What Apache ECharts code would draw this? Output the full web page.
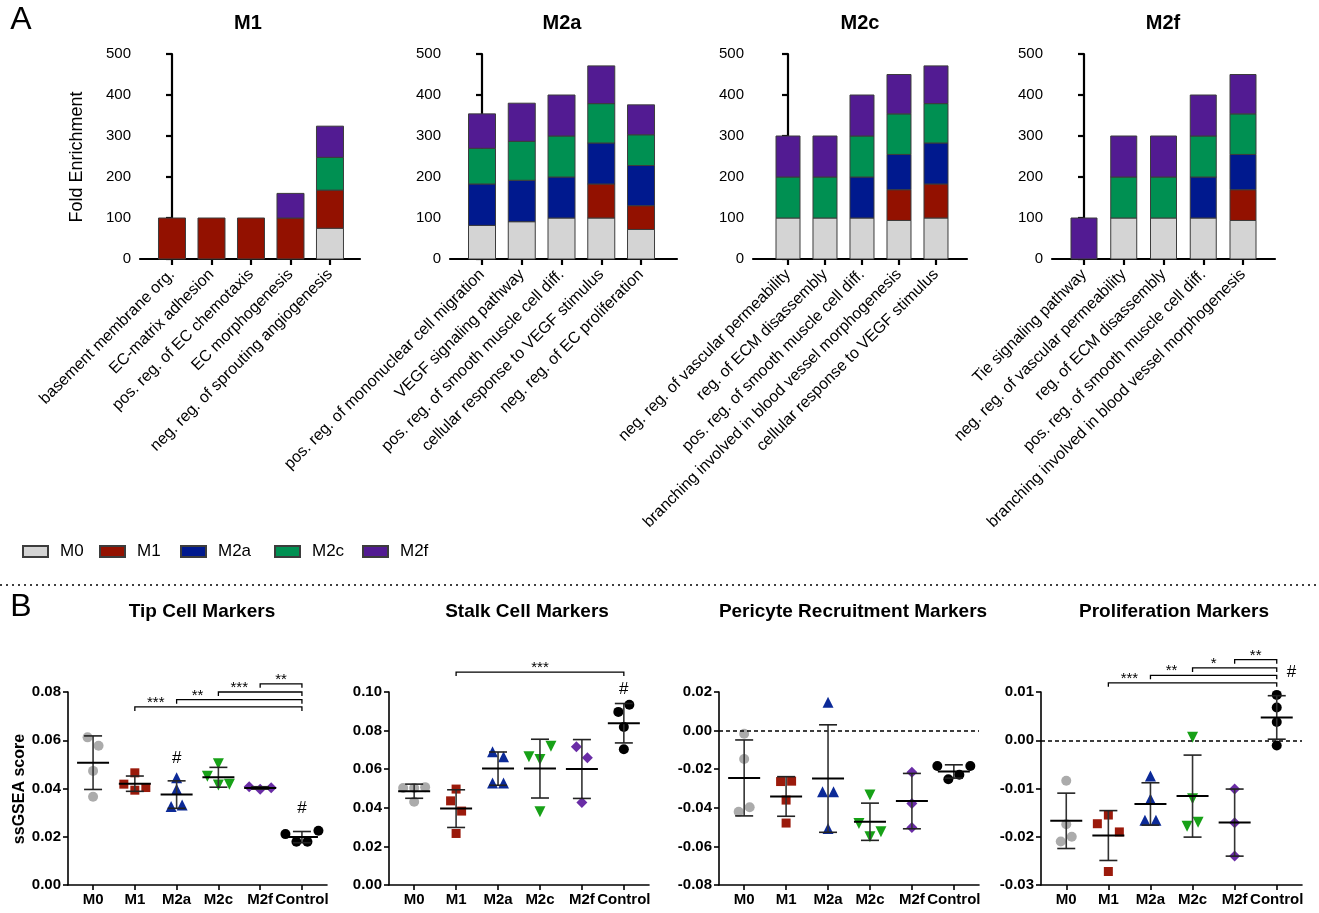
<!DOCTYPE html>
<html><head><meta charset="utf-8">
<script src="https://cdn.jsdelivr.net/npm/echarts@6/dist/echarts.min.js"></script>
<style>html,body{margin:0;padding:0;background:#fff}#c{width:1319px;height:913px}</style>
</head><body><div id="c"></div><script>
// ---------- DATA: panel A (fold enrichment, stacked by macrophage subtype) ----------
const groupsA = ['M0','M1','M2a','M2c','M2f'];

const m1Terms = ['basement membrane org.','EC-matrix adhesion','pos. reg. of EC chemotaxis','EC morphogenesis','neg. reg. of sprouting angiogenesis'];
const m1_M0  = [0,0,0,0,75];
const m1_M1  = [100,100,100,100,93];
const m1_M2a = [0,0,0,0,0];
const m1_M2c = [0,0,0,0,80];
const m1_M2f = [0,0,0,60,76];

const m2aTerms = ['pos. reg. of mononuclear cell migration','VEGF signaling pathway','pos. reg. of smooth muscle cell diff.','cellular response to VEGF stimulus','neg. reg. of EC proliferation'];
const m2a_M0  = [82,91,100,100,72];
const m2a_M1  = [0,0,0,83,58];
const m2a_M2a = [101,101,100,100,98];
const m2a_M2c = [87,95,100,96,75];
const m2a_M2f = [84,93,100,92,73];

const m2cTerms = ['neg. reg. of vascular permeability','reg. of ECM disassembly','pos. reg. of smooth muscle cell diff.','branching involved in blood vessel morphogenesis','cellular response to VEGF stimulus'];
const m2c_M0  = [100,100,100,94,100];
const m2c_M1  = [0,0,0,75,83];
const m2c_M2a = [0,0,100,86,100];
const m2c_M2c = [100,100,100,99,96];
const m2c_M2f = [100,100,100,96,92];

const m2fTerms = ['Tie signaling pathway','neg. reg. of vascular permeability','reg. of ECM disassembly','pos. reg. of smooth muscle cell diff.','branching involved in blood vessel morphogenesis'];
const m2f_M0  = [0,100,100,100,94];
const m2f_M1  = [0,0,0,0,75];
const m2f_M2a = [0,0,0,100,86];
const m2f_M2c = [0,100,100,100,99];
const m2f_M2f = [100,100,100,100,96];

// ---------- DATA: panel B (ssGSEA scores, individual replicates) ----------
const groupsB = ['M0','M1','M2a','M2c','M2f','Control'];

const tip_M0 = [0.0612,0.0577,0.0473,0.0366];
const tip_M1 = [0.0465,0.0418,0.0393,0.0404];
const tip_M2a = [0.0445,0.0397,0.0325,0.0332];
const tip_M2c = [0.0503,0.0451,0.0414,0.0418];
const tip_M2f = [0.0407,0.0397,0.0403];
const tip_Control = [0.0211,0.0179,0.0179,0.0225];

const stalk_M0 = [0.0503,0.0503,0.0507,0.0431];
const stalk_M1 = [0.0497,0.0436,0.0383,0.0267];
const stalk_M2a = [0.0690,0.0664,0.0529,0.0529];
const stalk_M2c = [0.0664,0.0650,0.0719,0.0379];
const stalk_M2f = [0.0716,0.0659,0.0428];
const stalk_Control = [0.0897,0.0934,0.0819,0.0703];

const peri_M0 = [-0.0016,-0.0147,-0.0421,-0.0397];
const peri_M1 = [-0.0264,-0.0262,-0.0360,-0.0479];
const peri_M2a = [0.0147,-0.0317,-0.0317,-0.0507];
const peri_M2c = [-0.0334,-0.0481,-0.0550,-0.0524];
const peri_M2f = [-0.0216,-0.0378,-0.0502];
const peri_Control = [-0.0183,-0.0252,-0.0229,-0.0183];

const prol_M0 = [-0.0084,-0.0174,-0.0210,-0.0200];
const prol_M1 = [-0.0173,-0.0155,-0.0190,-0.0272];
const prol_M2a = [-0.0074,-0.0122,-0.0166,-0.0166];
const prol_M2c = [0.0006,-0.0121,-0.0178,-0.0170];
const prol_M2f = [-0.0101,-0.0171,-0.0240];
const prol_Control = [0.0094,0.0068,0.0038,-0.0011];

// significance brackets: [from group, to group, label, bracket level]
const tipSig = [['M1','Control','***',0.0738],['M2a','Control','**',0.0768],['M2c','Control','***',0.0800],['M2f','Control','**',0.0834]];
const stalkSig = [['M1','Control','***',0.1103]];
const periSig = [];
const prolSig = [['M1','Control','***',0.0119],['M2a','Control','**',0.01345],['M2c','Control','*',0.0150],['M2f','Control','**',0.0167]];
// "#" marks: [group, level]
const tipHash = [['M2a',0.0525],['Control',0.0318]];
const stalkHash = [['Control',0.1015]];
const periHash = [];
const prolHash = [['Control',0.0141]];

// ---------- STYLE / LAYOUT ----------
const FONT = 'Liberation Sans, Arial, Helvetica, sans-serif';
const colorsA = {M0:'#d4d4d4', M1:'#931100', M2a:'#00198e', M2c:'#009052', M2f:'#521b92'};
const colorsB = {M0:'#ababab', M1:'#9b1a0b', M2a:'#0c2a98', M2c:'#17a117', M2f:'#6a2da6', Control:'#000000'};
const symB = {M0:['circle',10,0], M1:['rect',9,0], M2a:['triangle',11,0], M2c:['triangle',11,180], M2f:['diamond',11,0], Control:['circle',10,0]};
const legendLefts = [22, 99, 180, 274, 362];

const A_TOP = 54, A_H = 205;
const panelsA = [
  {title:'M1',  terms:m1Terms,  vals:[m1_M0,m1_M1,m1_M2a,m1_M2c,m1_M2f],       left:140,  width:220, xmin:-0.81, xmax:4.76, barW:27, tx:248},
  {title:'M2a', terms:m2aTerms, vals:[m2a_M0,m2a_M1,m2a_M2a,m2a_M2c,m2a_M2f],  left:450,  width:227, xmin:-0.805, xmax:4.905, barW:27, tx:562},
  {title:'M2c', terms:m2cTerms, vals:[m2c_M0,m2c_M1,m2c_M2a,m2c_M2c,m2c_M2f],  left:753,  width:214, xmin:-0.946, xmax:4.838, barW:24, tx:860},
  {title:'M2f', terms:m2fTerms, vals:[m2f_M0,m2f_M1,m2f_M2a,m2f_M2c,m2f_M2f],  left:1052, width:223, xmin:-0.805, xmax:4.805, barW:26, tx:1163}
];
const B_TOP = 692, B_H = 193;
const panelsB = [
  {title:'Tip Cell Markers', data:[tip_M0,tip_M1,tip_M2a,tip_M2c,tip_M2f,tip_Control], left:68, width:259, ymin:0, ymax:0.08, step:0.02, sig:tipSig, hash:tipHash, zero:false, tx:202, hashDx:0},
  {title:'Stalk Cell Markers', data:[stalk_M0,stalk_M1,stalk_M2a,stalk_M2c,stalk_M2f,stalk_Control], left:389, width:260, ymin:0, ymax:0.10, step:0.02, sig:stalkSig, hash:stalkHash, zero:false, tx:527, hashDx:0},
  {title:'Pericyte Recruitment Markers', data:[peri_M0,peri_M1,peri_M2a,peri_M2c,peri_M2f,peri_Control], left:719, width:260, ymin:-0.08, ymax:0.02, step:0.02, sig:periSig, hash:periHash, zero:true, tx:853, hashDx:0},
  {title:'Proliferation Markers', data:[prol_M0,prol_M1,prol_M2a,prol_M2c,prol_M2f,prol_Control], left:1041, width:261, ymin:-0.03, ymax:0.01, step:0.01, sig:prolSig, hash:prolHash, zero:true, tx:1174, hashDx:10}
];
const BX_MIN = -0.6, BX_MAX = 5.6;

// ---------- helpers ----------
function swarm(vals, pxY, pxX, thr, spacing){
  const idx = vals.map((v,i)=>i).sort((a,b)=>vals[b]-vals[a]);
  const clusters=[]; let cur=[idx[0]];
  for(let k=1;k<idx.length;k++){
    if((vals[idx[k-1]]-vals[idx[k]])*pxY < thr) cur.push(idx[k]); else {clusters.push(cur); cur=[idx[k]];}
  }
  clusters.push(cur);
  const off = vals.map(()=>0);
  clusters.forEach(c=>{ c.sort((a,b)=>a-b); c.forEach((i,k)=>{ off[i]=(k-(c.length-1)/2)*spacing/pxX; }); });
  return off;
}
function meanSd(a){
  const m=a.reduce((s,v)=>s+v,0)/a.length;
  const sd=Math.sqrt(a.reduce((s,v)=>s+(v-m)*(v-m),0)/(a.length-1));
  return [m,sd];
}
function fmt2(v){ return Math.abs(v)<1e-9 ? '0.00' : v.toFixed(2); }

const grid=[], xAxis=[], yAxis=[], series=[], graphic=[];

// ---------- panel A ----------
panelsA.forEach((p,pi)=>{
  grid.push({left:p.left, top:A_TOP, width:p.width, height:A_H});
  xAxis.push({gridIndex:pi, type:'value', min:p.xmin, max:p.xmax,
    axisLine:{show:true, onZero:false, lineStyle:{color:'#000', width:2.2}},
    axisTick:{show:true, length:6, lineStyle:{color:'#000', width:2.2}, customValues:[0,1,2,3,4]},
    splitLine:{show:false},
    axisLabel:{customValues:[0,1,2,3,4], rotate:45, margin:13, color:'#000', fontFamily:FONT, fontSize:16, hideOverlap:false,
      formatter:(v)=>p.terms[Math.round(v)]}
  });
  yAxis.push({gridIndex:pi, type:'value', min:0, max:500, interval:100,
    axisLine:{show:true, lineStyle:{color:'#000', width:2.2}},
    axisTick:{show:true, length:6, lineStyle:{color:'#000', width:2.2}},
    splitLine:{show:false},
    axisLabel:{margin:9, color:'#000', fontFamily:FONT, fontSize:15}
  });
  // stacked bars: base of each segment = sum of the previous subtypes
  const base = p.terms.map(()=>0);
  groupsA.forEach((g,gi)=>{
    const vals = p.vals[gi];
    const data = vals.map((v,i)=>[i, base[i], base[i]+v]);
    vals.forEach((v,i)=>{ base[i]+=v; });
    const bw = p.barW;
    series.push({type:'custom', name:g, xAxisIndex:pi, yAxisIndex:pi, z:3, animation:false, silent:true,
      itemStyle:{color:colorsA[g], borderColor:'#3c3c3c', borderWidth:1},
      encode:{x:0, y:[1,2]},
      data,
      renderItem:(params, api)=>{
        const lo=api.value(1), hi=api.value(2);
        if(hi-lo<=0) return null;
        const pLo=api.coord([api.value(0), lo]), pHi=api.coord([api.value(0), hi]);
        return {type:'rect', shape:{x:pLo[0]-bw/2, y:pHi[1], width:bw, height:pLo[1]-pHi[1]},
          style:{fill:colorsA[g], stroke:'#3c3c3c', lineWidth:1}};
      }});
  });
  graphic.push({type:'text', x:p.tx, y:23, style:{text:p.title, font:'bold 20px '+FONT, fill:'#000', align:'center', verticalAlign:'middle'}});
});

// ---------- panel B ----------
panelsB.forEach((p,qi)=>{
  const ai = 4+qi;
  grid.push({left:p.left, top:B_TOP, width:p.width, height:B_H});
  xAxis.push({gridIndex:ai, type:'value', min:BX_MIN, max:BX_MAX,
    axisLine:{show:true, onZero:false, lineStyle:{color:'#000', width:1.6}},
    axisTick:{show:true, length:5, lineStyle:{color:'#000', width:1.6}, customValues:[0,1,2,3,4,5]},
    splitLine:{show:false},
    axisLabel:{customValues:[0,1,2,3,4,5], margin:7, color:'#000', fontFamily:FONT, fontSize:15, fontWeight:'bold', hideOverlap:false,
      formatter:(v)=>groupsB[Math.round(v)]}
  });
  yAxis.push({gridIndex:ai, type:'value', min:p.ymin, max:p.ymax, interval:p.step,
    axisLine:{show:true, onZero:false, lineStyle:{color:'#000', width:1.6}},
    axisTick:{show:true, length:5, lineStyle:{color:'#000', width:1.6}},
    splitLine:{show:false},
    axisLabel:{margin:7, color:'#000', fontFamily:FONT, fontSize:15, fontWeight:'bold', formatter:fmt2}
  });
  const pxY = B_H/(p.ymax-p.ymin), pxX = p.width/(BX_MAX-BX_MIN);
  const stats=[];
  groupsB.forEach((g,gi)=>{
    const vals = p.data[gi];
    const off = swarm(vals, pxY, pxX, 11.2, 11);
    const s = symB[g];
    const ser = {type:'scatter', name:g+'_'+qi, xAxisIndex:ai, yAxisIndex:ai,
      symbol:s[0], symbolSize:s[1], symbolRotate:s[2], z:4,
      data:vals.map((v,i)=>[gi+off[i], v]),
      itemStyle:{color:colorsB[g], opacity:1}, emphasis:{disabled:true}, animation:false};
    if(gi===0 && p.zero){
      ser.markLine={silent:true, symbol:'none', animation:false, label:{show:false},
        lineStyle:{color:'#000', type:[4,3], width:1.6}, data:[{yAxis:0}]};
    }
    series.push(ser);
    const ms = meanSd(vals);
    stats.push([gi, ms[0], ms[1]]);
  });
  // mean +/- SD
  series.push({type:'custom', xAxisIndex:ai, yAxisIndex:ai, z:5, clip:false, animation:false, silent:true,
    data:stats,
    renderItem:(params, api)=>{
      const g=api.value(0), m=api.value(1), s=api.value(2);
      const c=api.coord([g,m]), t=api.coord([g,m+s]), b=api.coord([g,m-s]);
      const st={stroke:'#222', lineWidth:1.6};
      return {type:'group', children:[
        {type:'line', shape:{x1:c[0],y1:t[1],x2:c[0],y2:b[1]}, style:{stroke:'#333', lineWidth:1.6}},
        {type:'line', shape:{x1:c[0]-9,y1:t[1],x2:c[0]+9,y2:t[1]}, style:st},
        {type:'line', shape:{x1:c[0]-9,y1:b[1],x2:c[0]+9,y2:b[1]}, style:st},
        {type:'line', shape:{x1:c[0]-16,y1:c[1],x2:c[0]+16,y2:c[1]}, style:{stroke:'#000', lineWidth:2}}
      ]};
    }});
  // significance brackets
  if(p.sig.length){
    const sorted = p.sig.slice().sort((a,b)=>a[3]-b[3]);
    const labels = sorted.map(s=>s[2]);
    const bdata = sorted.map((s,k)=>{
      const a=groupsB.indexOf(s[0]), b=groupsB.indexOf(s[1]);
      const nextStart = k+1<sorted.length ? groupsB.indexOf(sorted[k+1][0]) : b;
      return [a, b, s[3], (a+nextStart)/2];
    });
    series.push({type:'custom', xAxisIndex:ai, yAxisIndex:ai, z:6, clip:false, animation:false, silent:true,
      data:bdata,
      renderItem:(params, api)=>{
        const a=api.value(0), b=api.value(1), lv=api.value(2), lx=api.value(3);
        const pa=api.coord([a,lv]), pb=api.coord([b,lv]), pl=api.coord([lx,lv]);
        return {type:'group', children:[
          {type:'polyline', shape:{points:[[pa[0],pa[1]+4],[pa[0],pa[1]],[pb[0],pb[1]],[pb[0],pb[1]+4]]},
            style:{stroke:'#000', lineWidth:1.3, fill:'none'}},
          {type:'text', style:{text:labels[params.dataIndex], x:pl[0], y:pl[1]-4, font:'15px '+FONT, fill:'#000', align:'center', verticalAlign:'middle'}}
        ]};
      }});
  }
  if(p.hash.length){
    const hd = p.hash.map(h=>[groupsB.indexOf(h[0]), h[1]]);
    series.push({type:'custom', xAxisIndex:ai, yAxisIndex:ai, z:6, clip:false, animation:false, silent:true,
      data:hd,
      renderItem:(params, api)=>{
        const c=api.coord([api.value(0), api.value(1)]);
        return {type:'text', style:{text:'#', x:c[0]+p.hashDx, y:c[1], font:'17px '+FONT, fill:'#000', align:p.hashDx?'left':'center', verticalAlign:'middle'}};
      }});
  }
  graphic.push({type:'text', x:p.tx, y:612, style:{text:p.title, font:'bold 19px '+FONT, fill:'#000', align:'center', verticalAlign:'middle'}});
});

// axis names, panel letters, separator
graphic.push({type:'text', x:77, y:157, rotation:Math.PI/2, style:{text:'Fold Enrichment', font:'18px '+FONT, fill:'#000', align:'center', verticalAlign:'middle'}});
graphic.push({type:'text', x:20, y:789, rotation:Math.PI/2, style:{text:'ssGSEA score', font:'bold 16px '+FONT, fill:'#000', align:'center', verticalAlign:'middle'}});
graphic.push({type:'text', x:21, y:20, style:{text:'A', font:'32px '+FONT, fill:'#000', align:'center', verticalAlign:'middle'}});
graphic.push({type:'text', x:21, y:607, style:{text:'B', font:'32px '+FONT, fill:'#000', align:'center', verticalAlign:'middle'}});
graphic.push({type:'line', shape:{x1:0,y1:585,x2:1319,y2:585}, style:{stroke:'#000', lineWidth:1.5, lineDash:[2,4]}});

const legend = groupsA.map((g,gi)=>({data:[g], left:legendLefts[gi], top:543, padding:0, orient:'horizontal',
  itemWidth:25, itemHeight:11, selectedMode:false, icon:'rect',
  textStyle:{fontFamily:FONT, fontSize:17, color:'#000', padding:[0,0,0,7]}}));

const chart = echarts.init(document.getElementById('c'), null, {renderer:'canvas'});
chart.setOption({
  animation:false,
  backgroundColor:'#fff',
  textStyle:{fontFamily:FONT},
  grid, xAxis, yAxis, series, graphic, legend
});
</script></body></html>
